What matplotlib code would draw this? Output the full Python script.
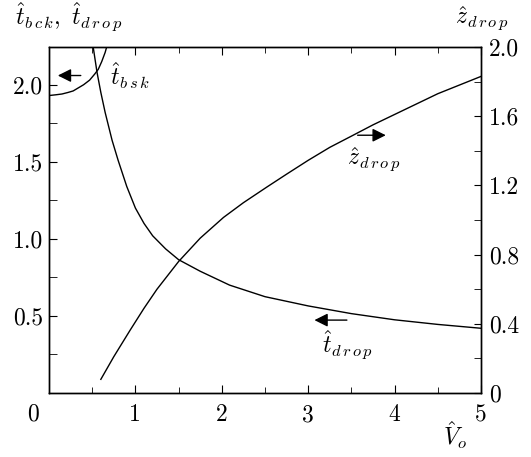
import matplotlib
matplotlib.use("Agg")
import matplotlib.pyplot as plt
from matplotlib.ticker import FixedLocator, FixedFormatter

plt.rcParams['font.family'] = 'serif'
plt.rcParams['font.serif'] = ['cmr10']
plt.rcParams['mathtext.fontset'] = 'cm'
plt.rcParams['axes.formatter.use_mathtext'] = True

# curves
v_drop = [0.51, 0.556, 0.60, 0.65, 0.73, 0.80, 0.90, 1.0, 1.1, 1.2, 1.35, 1.5, 1.75,
          2.09, 2.5, 3.0, 3.5, 4.0, 4.5, 5.0]
t_drop = [2.25, 2.08, 1.95, 1.82, 1.64, 1.51, 1.34, 1.20, 1.10, 1.02, 0.935, 0.865, 0.79,
          0.70, 0.625, 0.565, 0.515, 0.475, 0.445, 0.42]

v_bsk = [0.0, 0.08, 0.15, 0.22, 0.28, 0.34, 0.40, 0.47, 0.53, 0.57, 0.61, 0.65, 0.67]
t_bsk = [1.93, 1.935, 1.94, 1.95, 1.96, 1.98, 2.00, 2.03, 2.07, 2.10, 2.15, 2.21, 2.25]

v_z = [0.60, 0.75, 0.94, 1.1, 1.25, 1.5, 1.75, 2.02, 2.25, 2.52, 2.75, 3.0, 3.25,
       3.52, 3.75, 4.0, 4.25, 4.5, 4.75, 5.0]
z_drop = [0.079, 0.21, 0.364, 0.49, 0.60, 0.76, 0.895, 1.015, 1.10, 1.19, 1.265, 1.345, 1.42,
          1.49, 1.55, 1.61, 1.67, 1.73, 1.78, 1.83]

x_ticks = [1, 2, 3, 4, 5]
x_minor = [0.5, 1.5, 2.5, 3.5, 4.5]
left_ticks = [0.5, 1.0, 1.5, 2.0]
left_minor = [0.25, 0.75, 1.25, 1.75]
right_ticks = [0, 0.4, 0.8, 1.2, 1.6, 2.0]
right_minor = [0.2, 0.6, 1.0, 1.4, 1.8]

fig = plt.figure(figsize=(5.31, 4.57), dpi=100)
ax = fig.add_axes([49/531, 64/457, 432/531, 346/457])
ax2 = ax.twinx()

ax.plot(v_drop, t_drop, color='k', lw=1.0)
ax.plot(v_bsk, t_bsk, color='k', lw=1.0)
ax2.plot(v_z, z_drop, color='k', lw=1.0)

ax.set_xlim(0, 5)
ax.set_ylim(0, 2.245)
ax2.set_ylim(0, 2.0)

fs = 17
ax.xaxis.set_major_locator(FixedLocator(x_ticks))
ax.xaxis.set_major_formatter(FixedFormatter([str(v) for v in x_ticks]))
ax.xaxis.set_minor_locator(FixedLocator(x_minor))
ax.yaxis.set_major_locator(FixedLocator(left_ticks))
ax.yaxis.set_major_formatter(FixedFormatter(['0.5', '1.0', '1.5', '2.0']))
ax.yaxis.set_minor_locator(FixedLocator(left_minor))
ax2.yaxis.set_major_locator(FixedLocator(right_ticks))
ax2.yaxis.set_major_formatter(FixedFormatter(['0', '0.4', '0.8', '1.2', '1.6', '2.0']))
ax2.yaxis.set_minor_locator(FixedLocator(right_minor))

ax.tick_params(axis='x', which='both', direction='in', top=True, labelsize=fs, pad=8)
ax.tick_params(axis='x', which='major', length=6)
ax.tick_params(axis='x', which='minor', length=4)
ax.tick_params(axis='y', which='both', direction='in', length=6, right=False, labelsize=fs, pad=4)
ax2.tick_params(axis='y', which='both', direction='in', length=5, labelsize=fs, pad=6)

for a in (ax, ax2):
    for s in a.spines.values():
        s.set_linewidth(1.0)

ax.text(-0.038, -0.062, '0', transform=ax.transAxes, fontsize=fs, ha='center', va='center')

lfs = 17
fig.text(15/531, 1 - 25/457, r'$\hat{t}_{b\,c\,k},\ \hat{t}_{d\,r\,o\,p}$', fontsize=lfs, va='baseline')
fig.text(455/531, 1 - 24/457, r'$\hat{z}_{d\,r\,o\,p}$', fontsize=lfs, va='baseline')
fig.text(443/531, 1 - 445/457, r'$\hat{V}_o$', fontsize=lfs, va='baseline')

arrow = dict(arrowstyle='-|>', color='k', lw=1.0, mutation_scale=20)
ax.annotate('', xy=(0.07, 2.06), xytext=(0.40, 2.06), arrowprops=arrow)
ax.text(0.71, 2.06, r'$\hat{t}_{b\,s\,k}$', fontsize=lfs, va='center')
ax2.annotate('', xy=(3.93, 1.49), xytext=(3.54, 1.49), arrowprops=arrow)
ax2.text(3.76, 1.35, r'$\hat{z}_{d\,r\,o\,p}$', fontsize=lfs, ha='center', va='center')
ax.annotate('', xy=(3.04, 0.473), xytext=(3.48, 0.473), arrowprops=arrow)
ax.text(3.45, 0.31, r'$\hat{t}_{d\,r\,o\,p}$', fontsize=lfs, ha='center', va='center')

fig.savefig('out.png', dpi=100)
